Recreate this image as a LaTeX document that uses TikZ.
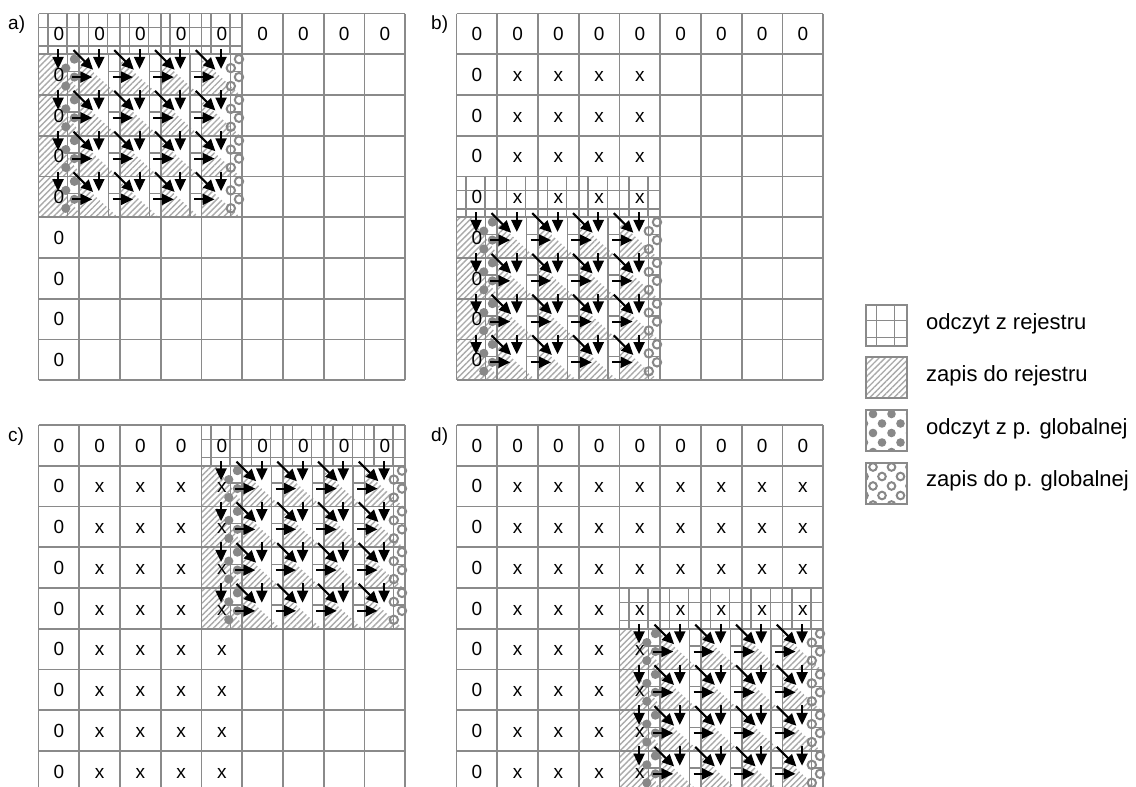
\documentclass[tikz,border=0pt]{standalone}
\usepackage{fontspec}
\setmainfont{Liberation Sans}
\usetikzlibrary{arrows.meta,patterns.meta}
\definecolor{gridgray}{HTML}{8A8A8A}
\definecolor{hatchgray}{HTML}{AAAAAA}
\definecolor{dotgray}{HTML}{888888}
\def\W{40.75}
\def\H{40.75}
\tikzset{
  gridline/.style={draw=gridgray, line width=1.6pt},
  innerline/.style={draw=gridgray, line width=1.3pt},
  hatchfill/.style={pattern={Lines[angle=45,distance=4.3pt,line width=1.4pt]}, pattern color=hatchgray},
  arr/.style={line width=2.1pt, -{Triangle[length=12pt,width=11pt]}},
  celltext/.style={font=\fontsize{19}{19}\selectfont, inner sep=0pt, anchor=base},
  lbl/.style={font=\fontsize{19}{19}\selectfont, inner sep=0pt, anchor=base west},
  legtext/.style={font=\fontsize{22}{22}\selectfont, inner sep=0pt, anchor=base west},
  gring/.style={draw=dotgray, line width=2pt, fill=none},
}
\newcommand\gridpanel{%
  \foreach \i in {0,...,9}{%
    \draw[gridline] (\i*\W,0) -- (\i*\W,9*\H);
    \draw[gridline] (0,\i*\H) -- (9*\W,\i*\H);}}
\newcommand\tilehatch[2]{%
  \foreach \j in {1,...,4}{\foreach \i in {0,...,4}{%
    \begin{scope}[shift={({(#1+\i)*\W},{(#2+\j)*\H})}]
      \ifnum\i=0\relax
        \path[hatchfill] (0,0) -- (0.35*\W,0) -- (\W,0.9*\H) -- (\W,\H) -- (0,\H) -- cycle;
      \else
        \path[hatchfill] (0,0.12*\H) -- (0.95*\W,\H) -- (0,\H) -- cycle;
      \fi
    \end{scope}}}}
\newcommand\tilelines[2]{%
  \foreach \i in {0,...,4}{%
    \begin{scope}[shift={({(#1+\i)*\W},{#2*\H})}]
      \draw[innerline] (0.23*\W,0) -- (0.23*\W,\H);
      \draw[innerline] (0.7*\W,0) -- (0.7*\W,\H);
      \draw[innerline] (0,0.35*\H) -- (\W,0.35*\H);
      \draw[innerline] (0,0.8*\H) -- (\W,0.8*\H);
    \end{scope}}
  \foreach \j in {1,...,4}{\foreach \i in {0,...,4}{%
    \begin{scope}[shift={({(#1+\i)*\W},{(#2+\j)*\H})}]
      \draw[innerline] (0.72*\W,0) -- (0.72*\W,\H);
      \draw[innerline] (0.72*\W,0.42*\H) -- (\W,0.42*\H);
    \end{scope}}}}
\newcommand\tiledots[2]{%
  \foreach \j in {1,...,4}{%
    \begin{scope}[shift={({#1*\W},{(#2+\j)*\H})}]
      \foreach \p/\q in {0.88/0.12,0.67/0.34,0.88/0.56,0.67/0.78}
        \fill[dotgray] (\p*\W,\q*\H) circle[radius=4.6];
    \end{scope}
    \begin{scope}[shift={({(#1+4)*\W},{(#2+\j)*\H})}]
      \foreach \p/\q in {0.92/0.12,0.72/0.34,0.92/0.56,0.72/0.78}
        \draw[gring] (\p*\W,\q*\H) circle[radius=4.2];
    \end{scope}}}
\newcommand\tilearrows[2]{%
  \foreach \j in {1,...,4}{\foreach \i in {0,...,4}{%
    \begin{scope}[shift={({(#1+\i)*\W},{(#2+\j)*\H})}]
      \draw[arr] (0.48*\W,-0.12*\H) -- (0.48*\W,0.36*\H);
      \ifnum\i>0\relax
        \draw[arr] (-0.14*\W,-0.1*\H) -- (0.34*\W,0.38*\H);
        \draw[arr] (-0.18*\W,0.56*\H) -- (0.32*\W,0.56*\H);
      \fi
    \end{scope}}}}
\newcommand\paneltext[2]{%
  \foreach \c in {0,...,8}
    \node[celltext] (#1-0-\c) at ({(\c+0.5)*\W},{0.5*\H+6.8}) {0};
  \foreach \r/\k in {#2}{%
    \node[celltext] (#1-\r-0) at ({0.5*\W},{(\r+0.5)*\H+6.8}) {0};
    \ifnum\k>0\relax
      \foreach \c in {1,...,\k}
        \node[celltext] (#1-\r-\c) at ({(\c+0.5)*\W},{(\r+0.5)*\H+6.8}) {x};
    \fi}}
\newcommand\panel[5]{%
  \begin{scope}[shift={(#1,#2)}]
    \tilehatch{#3}{#4}
    \gridpanel
    \tilelines{#3}{#4}
    \tiledots{#3}{#4}
    \paneltext#5
    \tilearrows{#3}{#4}
  \end{scope}}

\begin{document}
\begin{tikzpicture}[x=1pt,y=-1pt]
\clip (0,0) rectangle (1136,787);
\fill[white] (0,0) rectangle (1136,787);

\panel{38.5}{13.5}{0}{0}{{pa}{1/0,2/0,3/0,4/0,5/0,6/0,7/0,8/0}}
\panel{456.5}{13.5}{0}{4}{{pb}{1/4,2/4,3/4,4/4,5/0,6/0,7/0,8/0}}
\panel{38.5}{425}{4}{0}{{pc}{1/4,2/4,3/4,4/4,5/4,6/4,7/4,8/4}}
\panel{456.5}{425}{4}{4}{{pd}{1/8,2/8,3/8,4/8,5/4,6/4,7/4,8/4}}

\node[lbl] (la) at (8,29.5) {a)};
\node[lbl] (lb) at (431,29.5) {b)};
\node[lbl] (lc) at (8,441) {c)};
\node[lbl] (ld) at (431,441) {d)};

% legend
\begin{scope}[shift={(866,305)}]
  \draw[innerline] (10.3,0) -- (10.3,41) (28.7,0) -- (28.7,41) (0,15.8) -- (41,15.8) (0,32.6) -- (41,32.6);
  \draw[gridline] (0,0) rectangle (41,41);
\end{scope}
\begin{scope}[shift={(866,357)}]
  \path[hatchfill] (0,0) rectangle (41,41);
  \draw[gridline] (0,0) rectangle (41,41);
\end{scope}
\begin{scope}[shift={(866,410)}]
  \begin{scope}
    \clip (0,0) rectangle (41,41);
    \foreach \yy in {4,23,42} \foreach \xx in {7,25.5,44}
      \fill[dotgray] (\xx,\yy) circle[radius=4.3];
    \foreach \yy in {13.5,32.5} \foreach \xx in {-2,16,34.5}
      \fill[dotgray] (\xx,\yy) circle[radius=4.3];
  \end{scope}
  \draw[gridline] (0,0) rectangle (41,41);
\end{scope}
\begin{scope}[shift={(866,463)}]
  \begin{scope}
    \clip (0,0) rectangle (41,41);
    \foreach \yy in {4,23,42} \foreach \xx in {7,25.5,44}
      \draw[gring] (\xx,\yy) circle[radius=3.8];
    \foreach \yy in {13.5,32.5} \foreach \xx in {-2,16,34.5}
      \draw[gring] (\xx,\yy) circle[radius=3.8];
  \end{scope}
  \draw[gridline] (0,0) rectangle (41,41);
\end{scope}
\node[legtext] (t1) at (926,329.5) {odczyt z rejestru};
\node[legtext] (t2) at (926,381.7) {zapis do rejestru};
\node[legtext] (t3) at (926,434) {odczyt z p. globalnej};
\node[legtext] (t4) at (926,486.7) {zapis do p. globalnej};
\end{tikzpicture}
\end{document}
